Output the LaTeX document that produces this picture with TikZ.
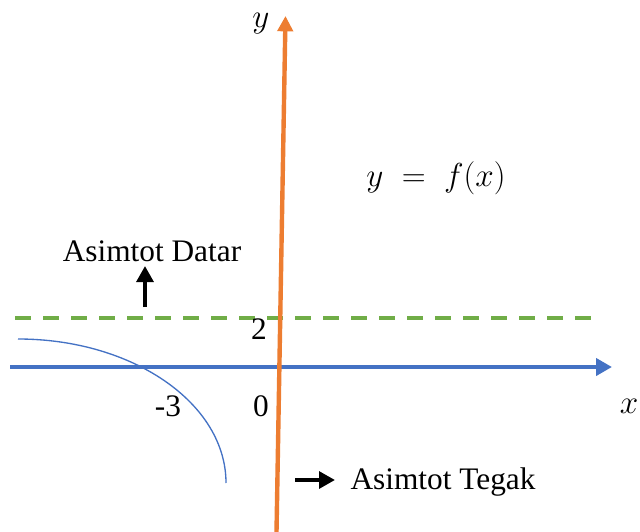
\documentclass[tikz,border=0pt]{standalone}
\usepackage{fontspec}
\setmainfont{Liberation Serif}
\usetikzlibrary{arrows.meta}
\definecolor{axblue}{HTML}{4472C4}
\definecolor{axorange}{HTML}{ED7D31}
\definecolor{asgreen}{HTML}{70AD47}
\tikzset{
  xaxis/.style={draw=axblue,line width=3pt,-{Triangle[length=12pt,width=12.75pt]}},
  yaxis/.style={draw=axorange,line width=3.3pt,-{Triangle[length=11.5pt,width=11.5pt]}},
  asym/.style={draw=asgreen,line width=2.6pt,dash pattern=on 12pt off 9pt},
  curvestyle/.style={draw=axblue,line width=1pt},
  lbl/.style={font=\fontsize{23.5}{27}\selectfont,inner sep=0pt},
  mlbl/.style={font=\fontsize{23}{27}\selectfont,inner sep=0pt},
  pointer/.style={draw=black,line width=3pt,-{Triangle[length=12pt,width=12.5pt]}}
}
\begin{document}
\begin{tikzpicture}[x=0.75pt,y=-0.75pt]
\useasboundingbox (0,0) rectangle (640,532);
% horizontal asymptote
\coordinate (gs) at (15,318);
\coordinate (ge) at (596,318);
\draw[asym] (gs) -- (ge);
% x axis
\coordinate (xs) at (10,367);
\coordinate (xe) at (612,367);
\draw[xaxis] (xs) -- (xe);
% curve
\coordinate (cs) at (18,339);
\coordinate (ce) at (226,483);
\draw[curvestyle] (cs) .. controls (133,339) and (226,403.5) .. (ce);
% y axis
\coordinate (ys) at (276.5,532);
\coordinate (ye) at (285.5,16);
\draw[yaxis] (ys) -- (ye);
% labels
\node[mlbl] (ylab) at (261,24) {$y$};
\node[mlbl] (xlab) at (629,406) {$x$};
\node[mlbl] (fx) at (436,178) {$y\mskip5mu=\mskip5mu f(x)$};
\node[lbl] (two) at (259,329) {2};
\node[lbl] (zero) at (261,406) {0};
\node[lbl] (m3) at (168,406) {-3};
\node[lbl] (datar) at (152,251) {Asimtot Datar};
\node[lbl] (tegak) at (443,482) {Asimtot Tegak};
% pointers
\coordinate (ua) at (145,307);
\coordinate (ub) at (145,266);
\draw[pointer] (ua) -- (ub);
\coordinate (ra) at (295,480);
\coordinate (rb) at (335,480);
\draw[pointer] (ra) -- (rb);
\end{tikzpicture}
\end{document}
